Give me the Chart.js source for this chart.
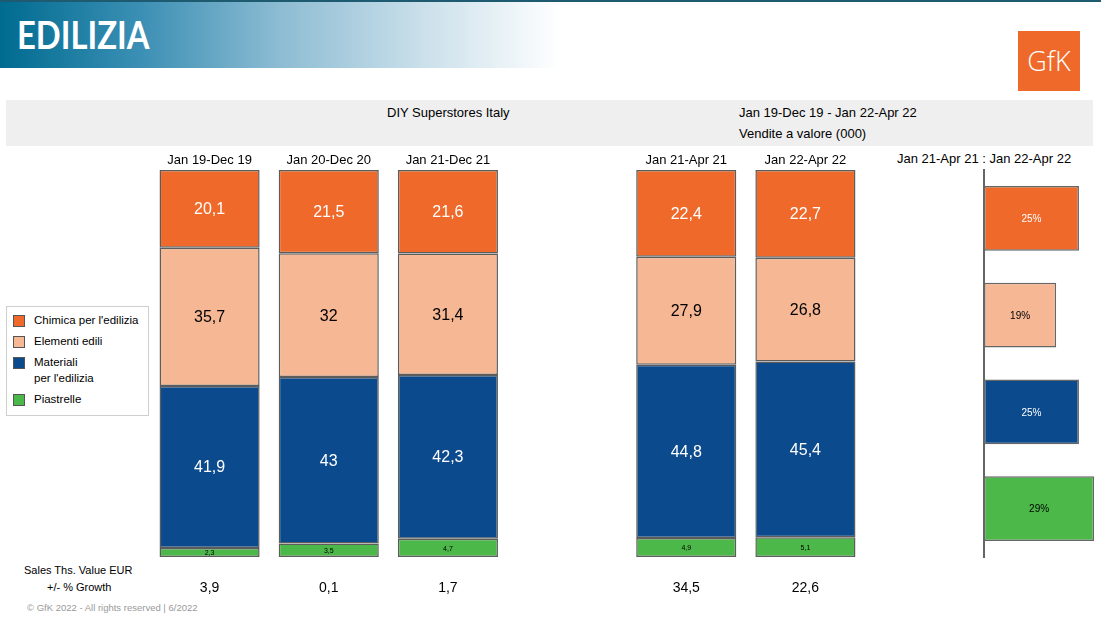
<!DOCTYPE html>
<html>
<head>
<meta charset="utf-8">
<script src="https://cdn.jsdelivr.net/npm/chart.js@4.4.1/dist/chart.umd.min.js"></script>
<style>
  body { margin:0; width:1101px; height:619px; background:#fff; position:relative; overflow:hidden;
         font-family:"Liberation Sans", Arial, sans-serif; color:#000; }
  .abs { position:absolute; white-space:nowrap; }
  #topline { left:0; top:0; width:1101px; height:2px; background:#1f5b70; }
  #banner { left:0; top:2px; width:560px; height:66px;
            background:linear-gradient(to right, #006b90 0%, #3b8fb4 25%, #8dbcd3 50%, #c9dfea 75%, #ffffff 100%); }
  #title { left:17px; top:11px; font-family:Lato, sans-serif; font-weight:bold; font-size:39px; color:#fff;
           transform:scaleX(0.84); transform-origin:left center; }
  #logo { left:1018px; top:31px; width:62px; height:60px; background:#ef6a2a; color:#fff;
          font-family:"Open Sans", sans-serif; font-size:27px; font-weight:300; text-align:center; line-height:60px; }
  #band { left:6px; top:100px; width:1087px; height:46px; background:#efefef; }
  .t13 { font-size:13px; }
  #legend { left:6px; top:306px; width:141px; height:108px; border:1.5px solid #cfcfcf; background:#fff; font-size:11.5px; }
  .sw { position:absolute; left:6px; width:10px; height:10px; border:1px solid #555; }
  .lt { position:absolute; left:27px; line-height:16px; }
  #mainWrap { left:150px; top:148px; width:715px; height:455px; }
  #sideWrap { left:900px; top:148px; width:201px; height:455px; }
</style>
</head>
<body>
<div class="abs" id="topline"></div>
<div class="abs" id="banner"></div>
<div class="abs" id="title">EDILIZIA</div>
<div class="abs" id="logo">GfK</div>
<div class="abs" id="band"></div>
<div class="abs t13" style="left:387px;top:105px;">DIY Superstores Italy</div>
<div class="abs t13" style="left:739px;top:105px;">Jan 19-Dec 19 - Jan 22-Apr 22</div>
<div class="abs t13" style="left:739px;top:126px;">Vendite a valore (000)</div>
<div class="abs t13" style="left:897px;top:151px;">Jan 21-Apr 21 : Jan 22-Apr 22</div>

<div class="abs" id="legend">
  <div class="sw" style="top:8px;background:#ef6a2a;"></div><div class="lt" style="top:5px;">Chimica per l'edilizia</div>
  <div class="sw" style="top:29px;background:#f6b795;"></div><div class="lt" style="top:26px;">Elementi edili</div>
  <div class="sw" style="top:50px;background:#0b4a8c;"></div><div class="lt" style="top:47px;">Materiali<br>per l'edilizia</div>
  <div class="sw" style="top:87px;background:#4cb849;"></div><div class="lt" style="top:84px;">Piastrelle</div>
</div>

<div class="abs" style="left:24px;top:564px;font-size:11px;">Sales Ths. Value EUR</div>
<div class="abs" style="left:47px;top:581px;font-size:11px;">+/- % Growth</div>
<div class="abs" style="left:27px;top:602px;font-size:9.5px;color:#999;">&copy; GfK 2022 - All rights reserved | 6/2022</div>

<div class="abs" id="mainWrap"><canvas id="mainChart"></canvas></div>
<div class="abs" id="sideWrap"><canvas id="sideChart"></canvas></div>

<script>
const periods    = ['Jan 19-Dec 19', 'Jan 20-Dec 20', 'Jan 21-Dec 21', '', 'Jan 21-Apr 21', 'Jan 22-Apr 22'];
const growth     = ['3,9', '0,1', '1,7', '', '34,5', '22,6'];
const chimica    = [20.1, 21.5, 21.6, null, 22.4, 22.7];
const elementi   = [35.7, 32.0, 31.4, null, 27.9, 26.8];
const materiali  = [41.9, 43.0, 42.3, null, 44.8, 45.4];
const piastrelle = [2.3, 3.5, 4.7, null, 4.9, 5.1];

const sideCats   = ['Chimica per l\'edilizia', 'Elementi edili', 'Materiali per l\'edilizia', 'Piastrelle'];
const sideGrowth = [25, 19, 25, 29];

const ORANGE = '#ef6a2a', PEACH = '#f6b795', BLUE = '#0b4a8c', GREEN = '#4cb849';
const EDGE = '#5c5c5c';

const fmt = v => String(v % 1 === 0 ? v : v.toFixed(1)).replace('.', ',');

// draws each bar's value in the middle of it
const valueLabels = {
  id: 'valueLabels',
  afterDatasetsDraw(chart) {
    const c = chart.ctx;
    chart.data.datasets.forEach((ds, i) => {
      const meta = chart.getDatasetMeta(i);
      meta.data.forEach((bar, j) => {
        const v = ds.data[j];
        if (v == null) return;
        const p = bar.getProps(['x', 'y', 'base'], true);
        const horiz = chart.options.indexAxis === 'y';
        const x = horiz ? (p.x + p.base) / 2 : p.x;
        const y = horiz ? p.y : (p.y + p.base) / 2;
        c.save();
        c.font = (ds._lblSize || 16) + 'px "Liberation Sans", Arial, sans-serif';
        c.fillStyle = Array.isArray(ds._lblColor) ? ds._lblColor[j] : ds._lblColor;
        c.textAlign = 'center';
        c.textBaseline = 'middle';
        c.fillText(ds._lblFmt ? ds._lblFmt(v) : fmt(v), x, y + 1);
        c.restore();
      });
    });
  }
};

const barStyle = { borderColor: EDGE, borderWidth: 1.5, borderSkipped: false,
                   categoryPercentage: 1, barPercentage: 0.84 };

new Chart(document.getElementById('mainChart'), {
  type: 'bar',
  data: {
    labels: periods,
    datasets: [
      { label: 'Piastrelle', data: piastrelle, backgroundColor: GREEN, _lblSize: 7, _lblColor: '#000', ...barStyle },
      { label: 'Materiali per l\'edilizia', data: materiali, backgroundColor: BLUE, _lblColor: '#fff', ...barStyle },
      { label: 'Elementi edili', data: elementi, backgroundColor: PEACH, _lblColor: '#000', ...barStyle },
      { label: 'Chimica per l\'edilizia', data: chimica, backgroundColor: ORANGE, _lblColor: '#fff', ...barStyle }
    ]
  },
  options: {
    responsive: true,
    maintainAspectRatio: false,
    animation: false,
    layout: { padding: 0 },
    plugins: { legend: { display: false }, tooltip: { enabled: false } },
    scales: {
      x: {
        position: 'top', stacked: true,
        grid: { display: false }, border: { display: false },
        ticks: { color: '#000', font: { size: 13, family: '"Liberation Sans", Arial' }, padding: -6, maxRotation: 0 },
        afterFit: s => { s.height = 22; }
      },
      x2: {
        type: 'category', labels: growth, position: 'bottom',
        grid: { display: false }, border: { display: false },
        ticks: { color: '#000', font: { size: 14, family: '"Liberation Sans", Arial' }, padding: 15, maxRotation: 0 },
        afterFit: s => { s.height = 46; }
      },
      y: { stacked: true, min: 0, max: 100, display: false }
    }
  },
  plugins: [valueLabels]
});

new Chart(document.getElementById('sideChart'), {
  type: 'bar',
  data: {
    labels: sideCats,
    datasets: [{
      data: sideGrowth,
      backgroundColor: [ORANGE, PEACH, BLUE, GREEN],
      borderColor: '#666', borderWidth: 1.5, borderSkipped: false,
      categoryPercentage: 1, barPercentage: 0.67,
      _lblSize: 10, _lblColor: ['#fff', '#000', '#fff', '#000'], _lblFmt: v => v + '%'
    }]
  },
  options: {
    indexAxis: 'y',
    responsive: true,
    maintainAspectRatio: false,
    animation: false,
    layout: { padding: { top: 22, bottom: 46, left: 0, right: 0 } },
    plugins: { legend: { display: false }, tooltip: { enabled: false } },
    scales: {
      x: { min: 0, max: 30.8, display: false },
      y: {
        grid: { display: false },
        border: { display: true, color: '#666', width: 2 },
        ticks: { display: false },
        afterFit: s => { s.width = 84; }
      }
    }
  },
  plugins: [valueLabels]
});
</script>
</body>
</html>
